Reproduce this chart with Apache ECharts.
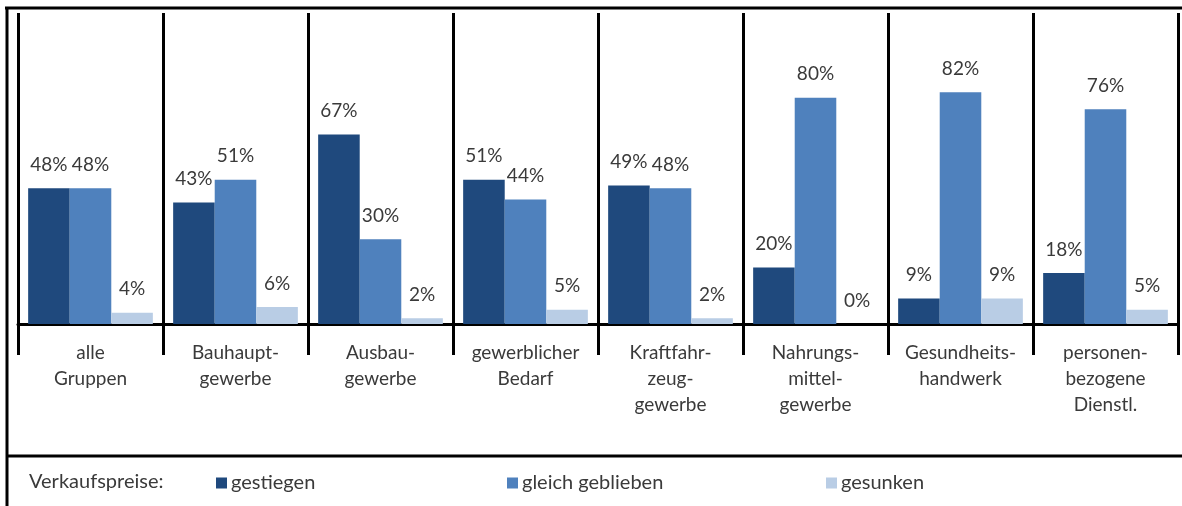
<!DOCTYPE html>
<html>
<head>
<meta charset="utf-8">
<script src="https://cdn.jsdelivr.net/npm/echarts@6/dist/echarts.min.js"></script>
<style>
  html, body { margin: 0; padding: 0; background: #fff; }
  #chart { width: 1182px; height: 506px; }
</style>
</head>
<body>
<div id="chart"></div>
<script>
  // Kategorien (Gewerbegruppen)
  var categories = ['alle\nGruppen', 'Bauhaupt-\ngewerbe', 'Ausbau-\ngewerbe', 'gewerblicher\nBedarf',
    'Kraftfahr-\nzeug-\ngewerbe', 'Nahrungs-\nmittel-\ngewerbe', 'Gesundheits-\nhandwerk', 'personen-\nbezogene\nDienstl.']
  var gestiegen = [48, 43, 67, 51, 49, 20, 9, 18]
  var gleichGeblieben = [48, 51, 30, 44, 48, 80, 82, 76]
  var gesunken = [4, 6, 2, 5, 2, 0, 9, 5]
  var seriesNames = ['gestiegen', 'gleich geblieben', 'gesunken']
  var colors = ['#1f497d', '#4f81bd', '#b9cde5']

  var fontFam = 'Lato, "Open Sans", sans-serif'
  var chart = echarts.init(document.getElementById('chart'))

  function makeSeries(name, data) {
    return {
      name: name,
      type: 'bar',
      data: data,
      barGap: '0%',
      barCategoryGap: '14%',
      label: {
        show: true,
        position: 'top',
        distance: 14,
        formatter: '{c}%',
        color: '#3a3a3a',
        fontSize: 19,
        fontFamily: fontFam
      }
    }
  }

  var option = {
    animation: false,
    color: colors,
    textStyle: { fontFamily: fontFam },
    grid: { left: 18, right: 4, top: 13, bottom: 182 },
    title: {
      text: 'Verkaufspreise:',
      left: 29,
      top: 472,
      padding: 0,
      textStyle: { fontSize: 20, fontWeight: 'normal', color: '#3a3a3a', fontFamily: fontFam }
    },
    // drei Legenden, damit die Abstaende wie im Original sind
    legend: [
      { data: [seriesNames[0]], left: 216 },
      { data: [seriesNames[1]], left: 507 },
      { data: [seriesNames[2]], left: 826 }
    ].map(function (l) {
      l.top = 473
      l.padding = 0
      l.icon = 'rect'
      l.itemWidth = 11
      l.itemHeight = 11
      l.itemGap = 0
      l.textStyle = { fontSize: 20, color: '#3a3a3a', fontFamily: fontFam, padding: [0, 0, 0, -1] }
      return l
    }),
    xAxis: {
      type: 'category',
      data: categories,
      axisLine: { lineStyle: { color: '#000', width: 3 } },
      axisTick: { show: true, length: 31, lineStyle: { color: '#000', width: 3 } },
      splitLine: { show: true, lineStyle: { color: '#000', width: 3 } },
      axisLabel: {
        margin: 16,
        fontSize: 19,
        lineHeight: 26,
        color: '#3a3a3a',
        fontFamily: fontFam,
        interval: 0
      }
    },
    yAxis: {
      type: 'value',
      min: 0,
      max: 110,
      show: false,
      splitLine: { show: false }
    },
    graphic: [
      // Rahmen oben, links und Trennlinie zur Legende
      { type: 'line', shape: { x1: 5, y1: 8, x2: 1182, y2: 8 }, style: { stroke: '#000', lineWidth: 3 } },
      { type: 'line', shape: { x1: 7, y1: 7, x2: 7, y2: 506 }, style: { stroke: '#000', lineWidth: 3 } },
      { type: 'line', shape: { x1: 7, y1: 456, x2: 1182, y2: 456 }, style: { stroke: '#000', lineWidth: 3 } }
    ],
    series: [
      makeSeries(seriesNames[0], gestiegen),
      makeSeries(seriesNames[1], gleichGeblieben),
      makeSeries(seriesNames[2], gesunken)
    ]
  }

  chart.setOption(option)
</script>
</body>
</html>
